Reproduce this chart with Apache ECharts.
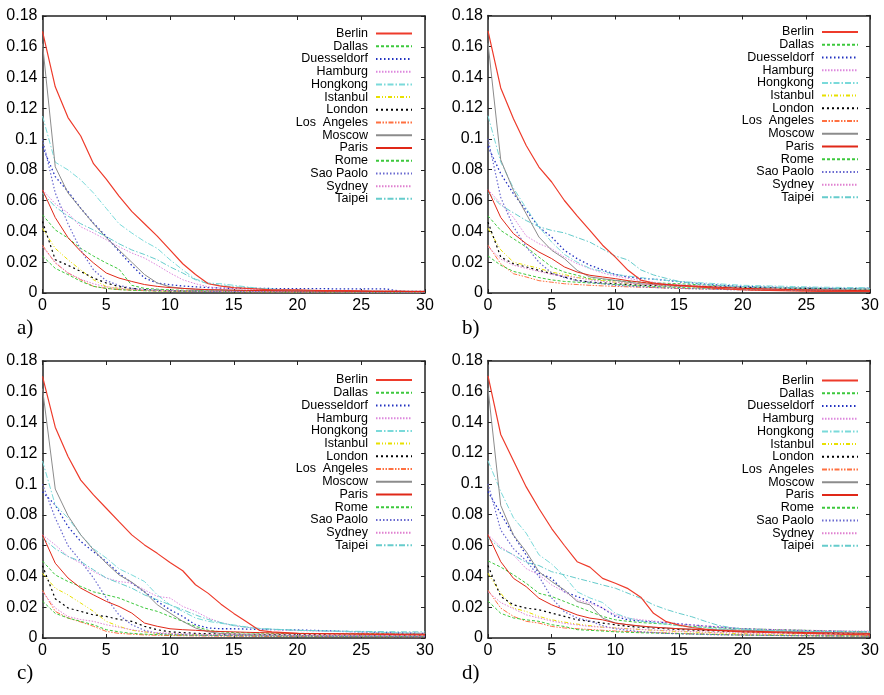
<!DOCTYPE html>
<html>
<head>
<meta charset="utf-8">
<script src="https://cdn.jsdelivr.net/npm/echarts@6/dist/echarts.min.js"></script>
<style>html,body{margin:0;padding:0;background:#fff}#c{width:884px;height:695px}</style>
</head>
<body>
<div id="c"></div>
<script>
const cities = ['Berlin','Dallas','Duesseldorf','Hamburg','Hongkong','Istanbul','London','Los  Angeles','Moscow','Paris','Rome','Sao Paolo','Sydney','Taipei'];
const xTicks = [0,5,10,15,20,25,30];
const yTicks = [0,0.02,0.04,0.06,0.08,0.1,0.12,0.14,0.16,0.18];
const panelLabels = ['a)','b)','c)','d)'];

// values at x = 0..30, rows in the order of `cities`
const panelA = [
 [0.170,0.134,0.114,0.102,0.084,0.074,0.063,0.053,0.045,0.037,0.028,0.019,0.012,0.006,0.0045,0.0035,0.003,0.0025,0.002,0.002,0.002,0.0018,0.0016,0.0015,0.0015,0.0014,0.0013,0.0012,0.0012,0.0011,0.001],
 [0.0508,0.041,0.0357,0.029,0.024,0.0195,0.0155,0.005,0.003,0.0025,0.002,0.0018,0.0016,0.0015,0.0014,0.0013,0.0012,0.0012,0.0011,0.0011,0.001,0.001,0.001,0.0009,0.0009,0.0009,0.0008,0.0008,0.0008,0.0008,0.0008],
 [0.095,0.0756,0.066,0.055,0.0454,0.0367,0.027,0.018,0.0097,0.0065,0.0054,0.0045,0.004,0.0035,0.0032,0.003,0.003,0.003,0.0029,0.0028,0.0028,0.0028,0.0028,0.0027,0.0027,0.0027,0.0027,0.0026,0.0012,0.001,0.001],
 [0.067,0.058,0.052,0.043,0.039,0.0346,0.030,0.026,0.0227,0.018,0.013,0.0086,0.006,0.004,0.0032,0.0028,0.0025,0.0022,0.002,0.0018,0.0017,0.0016,0.0015,0.0014,0.0013,0.0012,0.0012,0.0011,0.001,0.001,0.001],
 [0.115,0.085,0.080,0.0735,0.065,0.055,0.045,0.039,0.0335,0.029,0.0216,0.015,0.009,0.0065,0.006,0.005,0.004,0.003,0.0025,0.002,0.002,0.0018,0.0016,0.0015,0.0015,0.0014,0.0013,0.0012,0.0012,0.0011,0.001],
 [0.042,0.029,0.0216,0.015,0.0086,0.0042,0.003,0.0022,0.0018,0.0015,0.0013,0.0012,0.0011,0.001,0.001,0.0009,0.0009,0.0008,0.0008,0.0008,0.0007,0.0007,0.0007,0.0007,0.0006,0.0006,0.0006,0.0006,0.0006,0.0005,0.0005],
 [0.0465,0.0216,0.018,0.014,0.0097,0.0065,0.0042,0.003,0.0022,0.0018,0.0015,0.0013,0.0012,0.0011,0.001,0.001,0.0009,0.0009,0.0008,0.0008,0.0008,0.0007,0.0007,0.0007,0.0007,0.0006,0.0006,0.0006,0.0006,0.0006,0.0005],
 [0.031,0.0195,0.013,0.0086,0.0043,0.003,0.0022,0.0018,0.0015,0.0013,0.0012,0.0011,0.001,0.001,0.0009,0.0009,0.0008,0.0008,0.0008,0.0007,0.0007,0.0007,0.0007,0.0006,0.0006,0.0006,0.0006,0.0006,0.0005,0.0005,0.0005],
 [0.162,0.082,0.065,0.055,0.045,0.036,0.028,0.020,0.012,0.0065,0.004,0.003,0.0025,0.002,0.002,0.0018,0.0016,0.0015,0.0014,0.0013,0.0012,0.0012,0.0011,0.001,0.001,0.001,0.0009,0.0009,0.0008,0.0008,0.0008],
 [0.067,0.049,0.036,0.027,0.0195,0.013,0.0097,0.0075,0.0055,0.0043,0.0035,0.003,0.0025,0.0022,0.002,0.0018,0.0017,0.0016,0.0015,0.0014,0.0013,0.0013,0.0012,0.0012,0.0011,0.0011,0.001,0.001,0.001,0.0009,0.0009],
 [0.024,0.016,0.012,0.0076,0.0043,0.003,0.0022,0.0018,0.0015,0.0013,0.0012,0.0011,0.001,0.001,0.0009,0.0009,0.0008,0.0008,0.0008,0.0007,0.0007,0.0007,0.0007,0.0006,0.0006,0.0006,0.0006,0.0006,0.0005,0.0005,0.0005],
 [0.100,0.065,0.045,0.028,0.015,0.008,0.005,0.003,0.0022,0.0018,0.0015,0.0013,0.0012,0.0011,0.001,0.001,0.0009,0.0009,0.0008,0.0008,0.0008,0.0007,0.0007,0.0007,0.0007,0.0006,0.0006,0.0006,0.0006,0.0006,0.0005],
 [0.030,0.020,0.013,0.009,0.006,0.004,0.003,0.0024,0.002,0.0017,0.0015,0.0014,0.0013,0.0012,0.0011,0.001,0.001,0.0009,0.0009,0.0009,0.0008,0.0008,0.0008,0.0008,0.0007,0.0007,0.0007,0.0007,0.0007,0.0006,0.0006],
 [0.065,0.056,0.050,0.045,0.041,0.0367,0.032,0.028,0.025,0.0216,0.017,0.013,0.0086,0.006,0.005,0.004,0.0035,0.003,0.0025,0.002,0.0018,0.0016,0.0015,0.0014,0.0013,0.0012,0.0012,0.0011,0.001,0.001,0.001]
];
const panelB = [
 [0.170,0.133,0.113,0.0957,0.0817,0.072,0.060,0.050,0.0406,0.031,0.0233,0.0147,0.0084,0.0065,0.0055,0.0048,0.0042,0.0036,0.003,0.0025,0.0021,0.0019,0.0017,0.0015,0.0013,0.0012,0.0011,0.0011,0.001,0.001,0.001],
 [0.050,0.0406,0.0352,0.0298,0.0233,0.0169,0.0136,0.0115,0.0093,0.0085,0.008,0.0075,0.007,0.0066,0.0063,0.006,0.0056,0.0052,0.0048,0.0044,0.004,0.0038,0.0036,0.0034,0.0032,0.003,0.0029,0.0028,0.0027,0.0026,0.0025],
 [0.095,0.0774,0.0644,0.0536,0.0428,0.0363,0.0277,0.0223,0.018,0.0150,0.012,0.0104,0.0095,0.009,0.0082,0.0073,0.0065,0.0058,0.0052,0.0047,0.0043,0.004,0.0038,0.0036,0.0034,0.0032,0.0031,0.003,0.003,0.003,0.003],
 [0.067,0.058,0.049,0.037,0.032,0.0287,0.0233,0.019,0.0158,0.013,0.011,0.0095,0.008,0.007,0.006,0.0055,0.005,0.0047,0.0044,0.0042,0.004,0.0038,0.0036,0.0035,0.0034,0.0033,0.0032,0.0031,0.003,0.003,0.003],
 [0.115,0.085,0.068,0.055,0.043,0.033,0.025,0.020,0.016,0.014,0.012,0.011,0.010,0.009,0.0082,0.0075,0.007,0.0065,0.006,0.0055,0.005,0.0048,0.0046,0.0044,0.0042,0.004,0.0038,0.0037,0.0036,0.0035,0.0035],
 [0.042,0.028,0.020,0.018,0.016,0.0135,0.012,0.010,0.009,0.008,0.007,0.0063,0.0057,0.0052,0.0048,0.0044,0.004,0.0037,0.0034,0.0031,0.0028,0.0026,0.0024,0.0022,0.002,0.0019,0.0018,0.0017,0.0016,0.0015,0.0015],
 [0.046,0.0233,0.019,0.0169,0.0147,0.0125,0.0104,0.0082,0.0071,0.0065,0.006,0.0055,0.005,0.0048,0.0046,0.0045,0.0043,0.0041,0.0039,0.0037,0.0035,0.0034,0.0033,0.0032,0.0031,0.003,0.0029,0.0028,0.0027,0.0026,0.0025],
 [0.031,0.019,0.0125,0.0104,0.008,0.007,0.006,0.0055,0.005,0.0046,0.0043,0.004,0.0038,0.0035,0.0032,0.003,0.0028,0.0026,0.0024,0.0022,0.002,0.0018,0.0017,0.0016,0.0015,0.0014,0.0013,0.0012,0.0012,0.0011,0.001],
 [0.162,0.0864,0.0665,0.0514,0.0363,0.0277,0.0223,0.0147,0.0104,0.0093,0.0082,0.007,0.006,0.0055,0.005,0.0045,0.0042,0.0039,0.0036,0.0033,0.003,0.0028,0.0026,0.0025,0.0024,0.0023,0.0022,0.0021,0.002,0.002,0.002],
 [0.067,0.049,0.0385,0.032,0.0266,0.0223,0.0169,0.0136,0.0115,0.0104,0.0093,0.008,0.007,0.006,0.0055,0.005,0.0046,0.0042,0.0038,0.0034,0.003,0.0028,0.0026,0.0024,0.0022,0.002,0.0019,0.0018,0.0017,0.0016,0.0015],
 [0.024,0.018,0.014,0.012,0.010,0.0085,0.0075,0.007,0.0065,0.006,0.0055,0.005,0.0046,0.0042,0.0039,0.0036,0.0033,0.003,0.0028,0.0026,0.0024,0.0022,0.002,0.0019,0.0018,0.0017,0.0016,0.0015,0.0014,0.0013,0.0012],
 [0.100,0.062,0.043,0.030,0.020,0.013,0.010,0.008,0.007,0.006,0.005,0.0045,0.004,0.0036,0.0033,0.003,0.0028,0.0026,0.0024,0.0022,0.0021,0.002,0.0019,0.0018,0.0017,0.0016,0.0016,0.0015,0.0015,0.0014,0.0014],
 [0.030,0.022,0.018,0.016,0.014,0.012,0.011,0.010,0.0085,0.0075,0.007,0.0063,0.0057,0.0052,0.0048,0.0044,0.004,0.0036,0.0033,0.003,0.0028,0.0026,0.0024,0.0022,0.002,0.0019,0.0018,0.0017,0.0016,0.0015,0.0015],
 [0.065,0.057,0.052,0.047,0.043,0.0406,0.039,0.036,0.033,0.0285,0.024,0.0214,0.015,0.0117,0.0095,0.0075,0.0062,0.0055,0.005,0.0045,0.0042,0.004,0.0038,0.0036,0.0034,0.0033,0.0032,0.0031,0.003,0.003,0.003]
];
const panelC = [
 [0.170,0.137,0.118,0.1026,0.093,0.0843,0.0756,0.067,0.0605,0.055,0.049,0.0437,0.0346,0.029,0.022,0.016,0.0105,0.005,0.004,0.0035,0.003,0.0029,0.0028,0.0027,0.0026,0.0025,0.0024,0.0023,0.0022,0.0021,0.002],
 [0.050,0.041,0.0367,0.0335,0.030,0.028,0.026,0.0227,0.0195,0.0173,0.014,0.0108,0.0076,0.005,0.004,0.0035,0.0033,0.0032,0.0031,0.003,0.003,0.003,0.0029,0.0029,0.0028,0.0028,0.0028,0.0027,0.0027,0.0027,0.0027],
 [0.095,0.0864,0.0724,0.0627,0.056,0.0497,0.042,0.0357,0.030,0.0238,0.0184,0.014,0.0086,0.0065,0.006,0.006,0.0058,0.0056,0.0055,0.0053,0.0052,0.005,0.0048,0.0045,0.0042,0.004,0.0037,0.0035,0.0033,0.0031,0.003],
 [0.067,0.0605,0.053,0.0486,0.0432,0.039,0.0367,0.0357,0.0313,0.027,0.026,0.0205,0.0173,0.013,0.010,0.008,0.007,0.006,0.0055,0.005,0.0048,0.0046,0.0044,0.0042,0.004,0.0038,0.0036,0.0034,0.0032,0.0031,0.003],
 [0.115,0.0864,0.078,0.067,0.058,0.052,0.045,0.041,0.0367,0.028,0.0216,0.0173,0.013,0.0108,0.0095,0.0085,0.0072,0.0063,0.0058,0.0054,0.005,0.0048,0.0046,0.0044,0.0042,0.004,0.0038,0.0036,0.0034,0.0032,0.003],
 [0.042,0.0324,0.028,0.0227,0.0173,0.0108,0.0076,0.005,0.004,0.003,0.0026,0.0023,0.0021,0.002,0.0019,0.0018,0.0017,0.0016,0.0015,0.0015,0.0014,0.0014,0.0013,0.0013,0.0012,0.0012,0.0012,0.0011,0.0011,0.0011,0.001],
 [0.047,0.0255,0.0195,0.0173,0.015,0.014,0.012,0.0108,0.0076,0.0054,0.004,0.0035,0.003,0.0028,0.0026,0.0025,0.0024,0.0023,0.0022,0.0021,0.002,0.002,0.002,0.0019,0.0019,0.0019,0.0018,0.0018,0.0018,0.0018,0.0018],
 [0.031,0.0173,0.013,0.0104,0.0076,0.0043,0.003,0.0025,0.002,0.0018,0.0016,0.0015,0.0014,0.0013,0.0012,0.0012,0.0011,0.0011,0.001,0.001,0.001,0.001,0.0009,0.0009,0.0009,0.0009,0.0009,0.0008,0.0008,0.0008,0.0008],
 [0.162,0.0968,0.0795,0.067,0.0573,0.0486,0.041,0.0363,0.030,0.0216,0.0162,0.0108,0.0065,0.004,0.003,0.0025,0.0022,0.002,0.0019,0.0018,0.0017,0.0016,0.0015,0.0015,0.0014,0.0014,0.0013,0.0013,0.0012,0.0012,0.0012],
 [0.067,0.0486,0.039,0.0324,0.028,0.0238,0.0205,0.0162,0.0097,0.0076,0.006,0.0054,0.005,0.0045,0.0042,0.004,0.0037,0.0035,0.0033,0.0031,0.003,0.0029,0.0028,0.0028,0.0027,0.0027,0.0026,0.0026,0.0025,0.0025,0.0025],
 [0.024,0.016,0.013,0.0108,0.0086,0.0054,0.004,0.003,0.0025,0.0022,0.002,0.0019,0.0018,0.0017,0.0016,0.0015,0.0015,0.0014,0.0014,0.0013,0.0013,0.0012,0.0012,0.0012,0.0011,0.0011,0.0011,0.001,0.001,0.001,0.001],
 [0.100,0.078,0.060,0.050,0.039,0.026,0.015,0.0086,0.005,0.003,0.0025,0.0022,0.002,0.0018,0.0017,0.0016,0.0015,0.0014,0.0013,0.0013,0.0012,0.0012,0.0011,0.0011,0.001,0.001,0.001,0.001,0.0009,0.0009,0.0009],
 [0.030,0.0195,0.014,0.012,0.0108,0.0086,0.007,0.0054,0.004,0.0035,0.003,0.0027,0.0025,0.0023,0.0022,0.0021,0.002,0.0019,0.0018,0.0018,0.0017,0.0017,0.0016,0.0016,0.0016,0.0015,0.0015,0.0015,0.0015,0.0014,0.0014],
 [0.065,0.058,0.053,0.0497,0.0443,0.039,0.0357,0.0324,0.028,0.0248,0.0216,0.0184,0.015,0.012,0.010,0.008,0.007,0.006,0.0057,0.0054,0.005,0.0048,0.0046,0.0045,0.0044,0.0043,0.0042,0.0041,0.004,0.004,0.004]
];
const panelD = [
 [0.170,0.132,0.115,0.098,0.084,0.071,0.060,0.0495,0.046,0.0387,0.0355,0.032,0.0265,0.016,0.0106,0.0084,0.0068,0.0058,0.005,0.0045,0.004,0.0038,0.0036,0.0034,0.0032,0.003,0.0028,0.0026,0.0024,0.0022,0.002],
 [0.050,0.046,0.041,0.0355,0.029,0.0269,0.0237,0.0204,0.0172,0.014,0.0118,0.0108,0.010,0.0095,0.009,0.008,0.0075,0.007,0.0066,0.0063,0.006,0.0058,0.0056,0.0054,0.0052,0.005,0.0048,0.0046,0.0044,0.0042,0.004],
 [0.095,0.0806,0.0667,0.0538,0.042,0.0387,0.030,0.0269,0.0237,0.0194,0.014,0.0118,0.011,0.0105,0.010,0.0092,0.0085,0.0078,0.0072,0.0066,0.006,0.0057,0.0054,0.0051,0.005,0.0048,0.0046,0.0044,0.0042,0.0041,0.004],
 [0.067,0.059,0.0538,0.045,0.041,0.0344,0.030,0.0247,0.0226,0.0194,0.015,0.0129,0.0118,0.011,0.010,0.009,0.0084,0.0078,0.0072,0.0066,0.006,0.0058,0.0056,0.0054,0.0052,0.005,0.0049,0.0048,0.0047,0.0046,0.0045],
 [0.115,0.095,0.078,0.068,0.054,0.048,0.040,0.030,0.026,0.023,0.016,0.013,0.011,0.010,0.009,0.008,0.0072,0.0066,0.006,0.0056,0.0052,0.005,0.0048,0.0046,0.0044,0.0042,0.004,0.0039,0.0038,0.0037,0.0036],
 [0.042,0.029,0.0194,0.0172,0.014,0.0118,0.0103,0.009,0.008,0.007,0.0065,0.006,0.0055,0.005,0.0046,0.0042,0.0039,0.0036,0.0033,0.003,0.0028,0.0026,0.0024,0.0022,0.002,0.0019,0.0018,0.0017,0.0016,0.0015,0.0015],
 [0.047,0.0269,0.0215,0.0194,0.0183,0.0161,0.014,0.0118,0.0108,0.0097,0.0086,0.0075,0.007,0.0065,0.006,0.0055,0.0052,0.0049,0.0046,0.0043,0.004,0.0038,0.0036,0.0034,0.0032,0.003,0.0029,0.0028,0.0027,0.0026,0.0025],
 [0.031,0.0194,0.014,0.0108,0.0097,0.0075,0.0065,0.006,0.0055,0.005,0.0045,0.0042,0.0039,0.0036,0.0033,0.003,0.0028,0.0026,0.0024,0.0022,0.002,0.0019,0.0018,0.0017,0.0016,0.0015,0.0014,0.0013,0.0013,0.0012,0.0012],
 [0.162,0.086,0.0667,0.056,0.043,0.0366,0.0312,0.0237,0.0215,0.0129,0.0097,0.0086,0.0075,0.007,0.0065,0.006,0.0058,0.0056,0.0054,0.0052,0.005,0.0048,0.0046,0.0044,0.0042,0.004,0.0038,0.0036,0.0034,0.0032,0.003],
 [0.067,0.0495,0.0387,0.0333,0.0258,0.0215,0.0183,0.015,0.0129,0.0118,0.0097,0.0086,0.0078,0.007,0.0065,0.006,0.0056,0.0052,0.0049,0.0047,0.0045,0.0043,0.0041,0.0039,0.0037,0.0035,0.0034,0.0033,0.0032,0.0031,0.003],
 [0.024,0.016,0.013,0.0118,0.0108,0.0086,0.0075,0.0054,0.005,0.0045,0.004,0.0037,0.0034,0.0032,0.003,0.0028,0.0026,0.0024,0.0022,0.002,0.0019,0.0018,0.0017,0.0016,0.0015,0.0015,0.0014,0.0014,0.0013,0.0013,0.0012],
 [0.100,0.070,0.058,0.050,0.040,0.026,0.017,0.013,0.011,0.008,0.006,0.005,0.004,0.0035,0.003,0.0027,0.0025,0.0023,0.0021,0.002,0.0019,0.0018,0.0017,0.0016,0.0015,0.0015,0.0014,0.0014,0.0013,0.0013,0.0012],
 [0.030,0.023,0.019,0.015,0.013,0.011,0.0095,0.0085,0.0075,0.007,0.0065,0.006,0.0056,0.0052,0.0048,0.0045,0.0042,0.0039,0.0036,0.0034,0.0032,0.003,0.0028,0.0027,0.0026,0.0025,0.0024,0.0023,0.0022,0.0021,0.002],
 [0.065,0.058,0.054,0.049,0.047,0.043,0.041,0.0387,0.0366,0.0344,0.0323,0.029,0.0258,0.0215,0.0185,0.016,0.0138,0.011,0.0084,0.0068,0.0058,0.0054,0.005,0.0047,0.0045,0.0043,0.0042,0.0041,0.004,0.004,0.004]
];
const panels = [panelA, panelB, panelC, panelD];

// visual styles per city (gnuplot-like)
const lineStyles = [
  {color:'#ee3b2b', type:'solid', width:1.2},
  {color:'#3cc83c', type:[3,2], width:1},
  {color:'#2030c0', type:[1.5,2.5], width:1.3},
  {color:'#dd88dd', type:[1.5,1.5], width:1},
  {color:'#7adada', type:[6,2,1.5,2], width:1},
  {color:'#e8e000', type:[4,2,1,2,1,2], width:1},
  {color:'#000000', type:[2,3], width:1.2},
  {color:'#ff7040', type:[5,1.5,1.5,1.5,1.5,1.5], width:1},
  {color:'#8c8c8c', type:'solid', width:1},
  {color:'#e02818', type:'solid', width:1},
  {color:'#3cc83c', type:[3,2], width:1},
  {color:'#6a6ad0', type:[1.5,2], width:1.2},
  {color:'#e080d0', type:[1.5,1.5], width:1},
  {color:'#66cccc', type:[6,2,1.5,2], width:1}
];

const grids = [
  {left:42.5, top:16, width:382.5, height:277},
  {left:488, top:15.5, width:382, height:277.5},
  {left:42.5, top:361, width:382.5, height:277},
  {left:488, top:360.5, width:382, height:277.5}
];
const legendPos = [
  {right:471, top:27},
  {right:25, top:25.5},
  {right:471, top:373.5},
  {right:25, top:374}
];
const labelPos = [
  {left:12, top:313},
  {left:457, top:313},
  {left:12, top:658},
  {left:457, top:658}
];

const axisColor = '#222';
const xAxes = [], yAxes = [], series = [], legends = [], titles = [];
grids.forEach((g, gi) => {
  const common = {gridIndex: gi, type:'value', splitLine:{show:false},
    axisLine:{show:true, onZero:false, lineStyle:{color:axisColor, width:1.5}},
    axisTick:{show:true, inside:true, length:4, lineStyle:{color:axisColor, width:1}}};
  xAxes.push(Object.assign({}, common, {position:'bottom', min:xTicks[0], max:xTicks[xTicks.length-1], interval:5,
    axisLabel:{show:true, color:'#000', fontSize:16, fontFamily:'Liberation Sans', margin:5}}));
  xAxes.push(Object.assign({}, common, {position:'top', min:xTicks[0], max:xTicks[xTicks.length-1], interval:5, axisLabel:{show:false}}));
  yAxes.push(Object.assign({}, common, {position:'left', min:yTicks[0], max:yTicks[yTicks.length-1], interval:0.02,
    axisLabel:{show:true, color:'#000', fontSize:16, fontFamily:'Liberation Sans', margin:5,
      formatter: v => String(parseFloat(v.toFixed(2)))}}));
  yAxes.push(Object.assign({}, common, {position:'right', min:yTicks[0], max:yTicks[yTicks.length-1], interval:0.02, axisLabel:{show:false}}));
  cities.forEach((name, ci) => {
    const st = lineStyles[ci];
    series.push({
      type:'line', name: name, xAxisIndex: gi*2, yAxisIndex: gi*2,
      data: panels[gi][ci].map((v, i) => [i, v]),
      symbol:'none', showSymbol:false, silent:true, z: 2 + (ci===0||ci===9 ? 1 : 0),
      color: st.color,
      lineStyle:{color: st.color, type: st.type, width: st.width},
      emphasis:{disabled:true}
    });
  });
  legends.push(Object.assign({
    data: cities, orient:'vertical', align:'right', padding:0,
    itemWidth:36, itemHeight:8, itemGap:-0.28, selectedMode:false,
    itemStyle:{opacity:0, borderWidth:0},
    textStyle:{fontSize:12.5, fontFamily:'Liberation Sans', color:'#000', lineHeight:12, padding:[0,3,0,0]}
  }, legendPos[gi]));
  titles.push(Object.assign({text: panelLabels[gi],
    textStyle:{fontFamily:'Liberation Serif', fontSize:21, fontWeight:'normal', color:'#000'}}, labelPos[gi]));
});

const chart = echarts.init(document.getElementById('c'), null, {renderer:'canvas'});
chart.setOption({
  animation:false,
  backgroundColor:'#fff',
  title: titles,
  grid: grids,
  xAxis: xAxes,
  yAxis: yAxes,
  legend: legends,
  series: series
});
</script>
</body>
</html>
